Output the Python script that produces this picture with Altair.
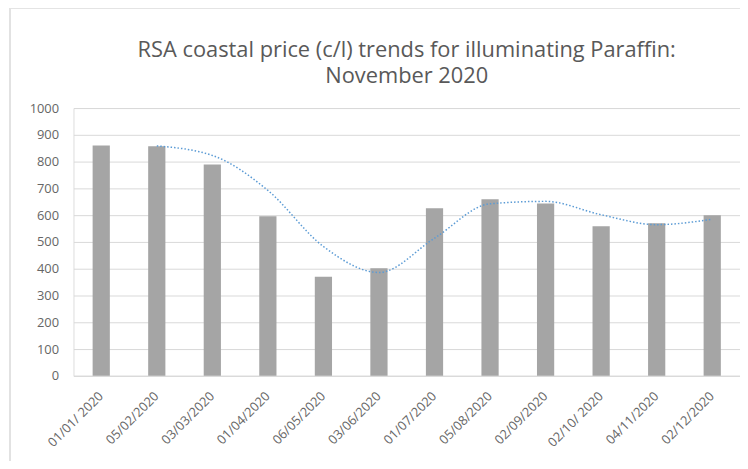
import altair as alt
import pandas as pd

dates = ["01/01/ 2020", "05/02/2020", "03/03/2020", "01/04/2020", "06/05/2020",
         "03/06/2020", "01/07/2020", "05/08/2020", "02/09/2020", "02/10/ 2020",
         "04/11/2020", "02/12/2020"]
prices = [860, 857, 789, 596, 370, 402, 626, 659, 644, 559, 570, 600]

df = pd.DataFrame({"date": dates, "price": prices, "idx": list(range(len(dates)))})

x_axis = alt.Axis(labelAngle=-45, labelFontSize=13, labelColor="#666666",
                  labelFont="Open Sans", ticks=False, domainColor="#d9d9d9",
                  labelPadding=18, grid=False, labelAlign="right", labelBaseline="middle")
y_axis = alt.Axis(values=list(range(0, 1001, 100)), format="d", labelFontSize=13,
                  labelColor="#666666", labelFont="Open Sans", ticks=False,
                  domain=False, gridColor="#d9d9d9", labelPadding=15)
x_scale = alt.Scale(paddingInner=0.69, paddingOuter=0.345)
y_scale = alt.Scale(domain=[0, 1000])

bars = alt.Chart(df).mark_bar(color="#a5a5a5").encode(
    x=alt.X("date:N", sort=dates, title=None, scale=x_scale, axis=x_axis),
    y=alt.Y("price:Q", title=None, scale=y_scale, axis=y_axis),
)

trend = alt.Chart(df).transform_window(
    ma="mean(price)", n="count()", frame=[-1, 0], sort=[alt.SortField("idx")]
).transform_filter(alt.datum.n == 2).mark_line(
    color="#5b9bd5", strokeWidth=1.5, strokeDash=[1.5, 2], interpolate="monotone"
).encode(
    x=alt.X("date:N", sort=dates, title=None, scale=x_scale, axis=x_axis),
    y=alt.Y("ma:Q", title=None, scale=y_scale, axis=y_axis),
)

# light chart frame (decoration)
frame_v = alt.Chart(df).mark_rule(color="#e3e3e3", strokeWidth=1.5).encode(
    x=alt.value(-64), y=alt.value(-101), y2=alt.value(370))
frame_h = alt.Chart(df).mark_rule(color="#e3e3e3", strokeWidth=1.5).encode(
    x=alt.value(-64), x2=alt.value(680), y=alt.value(-101))

chart = (frame_v + frame_h + bars + trend).resolve_axis(x="shared", y="shared").properties(
    width=672, height=270,
    autosize=alt.AutoSizeParams(type="none"),
    padding={"left": 66, "top": 99, "right": 0, "bottom": 84},
    title=alt.Title(["RSA coastal price (c/l) trends for illuminating Paraffin:", "November 2020"],
                    fontSize=22, font="Open Sans", fontWeight="normal", color="#595959",
                    anchor="middle", offset=-82, lineHeight=27),
).configure_view(stroke=None).configure(background="white")

chart.save("out.html", embed_options={"renderer": "svg", "actions": False})
